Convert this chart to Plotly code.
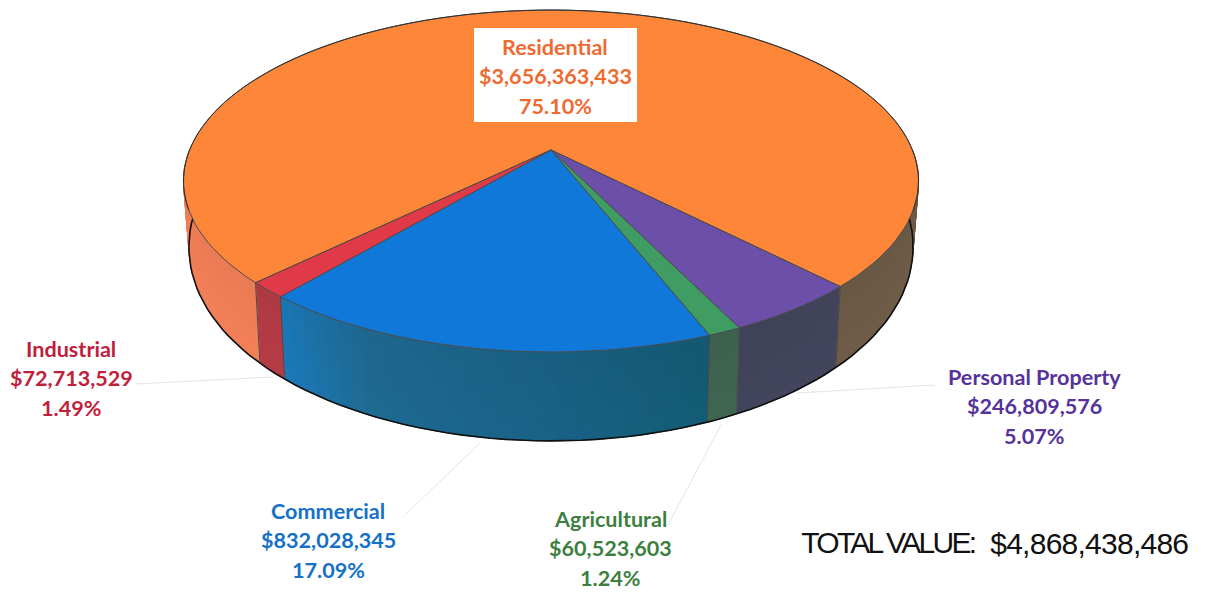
import math
import plotly.graph_objects as go

# ---- data (clockwise from the Personal/Residential edge) ----
categories = ["Personal Property", "Agricultural", "Commercial", "Industrial", "Residential"]
values = [246809576, 60523603, 832028345, 72713529, 3656363433]
value_labels = ["$246,809,576", "$60,523,603", "$832,028,345", "$72,713,529", "$3,656,363,433"]
percent_labels = ["5.07%", "1.24%", "17.09%", "1.49%", "75.10%"]
total_title = "TOTAL VALUE:"
total_label = "$4,868,438,486"

# ---- style ----
top_colors = ["#6c4fa8", "#3f9c63", "#0f78d8", "#e03a48", "#fd8638"]
text_colors = ["#55339b", "#3d7f3f", "#1570c8", "#c1203a", "#ee6a30"]
wall_stops = [
    [(0, "#42445c"), (1, "#40435a")],
    [(0, "#3f6350"), (1, "#3f6350")],
    [(0, "#125a72"), (0.35, "#186084"), (0.75, "#1e688f"), (1, "#1a78b8")],
    [(0, "#b23a44"), (1, "#b23a44")],
    None,
]
res_right = "#6c5a47"
res_left = "#ef7d56"
label_pos = {
    "Residential": (555, 47), "Industrial": (71, 349), "Personal Property": (1034, 377),
    "Commercial": (328, 511), "Agricultural": (610, 519),
}
leaders = {
    "Industrial": [(135, 384), (273, 377)], "Personal Property": [(797, 393), (935, 385)],
    "Commercial": [(405, 515), (480, 443)], "Agricultural": [(668, 525), (721, 425)],
}
LINE = 29.3
START = -45.9
CX, CY, A, B, K = 551, 150, 165.4, 361.5, 0.1813
SX, SY, DROP, SIDE = 0.985, 1.18, 52.5, 8.0


def top(t):
    X, Y = math.cos(math.radians(t)), math.sin(math.radians(t))
    w = 1 + K * Y
    return CX + B * X / w, CY - A * Y / w


def lower(t, f=1.0):
    x, y = top(t)
    c = math.cos(math.radians(t))
    xb, yb = CX + (x - CX) * SX, CY + DROP + (y - CY) * SY + SIDE * c * c
    return x + (xb - x) * f, y + (yb - y) * f


def hex2(c):
    return [int(c[i:i + 2], 16) for i in (1, 3, 5)]


def mix(a, b, f):
    ca, cb = hex2(a), hex2(b)
    return [ca[i] + (cb[i] - ca[i]) * f for i in range(3)]


def shade(rgb, m):
    return "rgb(%d,%d,%d)" % tuple(min(255, max(0, round(v * m))) for v in rgb)


def stop_color(stops, f):
    for (f0, c0), (f1, c1) in zip(stops, stops[1:]):
        if f <= f1:
            return mix(c0, c1, (f - f0) / (f1 - f0) if f1 > f0 else 0)
    return hex2(stops[-1][1])


fig = go.Figure()


def poly(xs, ys, fill, line=None, width=1):
    fig.add_trace(go.Scatter(x=xs, y=ys, mode="lines", fill="toself", fillcolor=fill,
                             line=dict(color=line or fill, width=width),
                             hoverinfo="skip", showlegend=False))


def stroke(xs, ys, color, width):
    fig.add_trace(go.Scatter(x=xs, y=ys, mode="lines", line=dict(color=color, width=width),
                             hoverinfo="skip", showlegend=False))


total = sum(values)
edges = [START]
for v in values:
    edges.append(edges[-1] - 360 * v / total)

N_BANDS = 6
STEP = 2.0

# walls: each slice split in small quads so the shading can vary
for i, v in enumerate(values):
    parts = [(edges[i], edges[i + 1])]
    if i == 4:  # only the front parts of the big slice are seen
        parts = [(edges[4], -180.0), (START, 0.0)]
    for p0, p1 in parts:
        n = max(1, int(abs(p1 - p0) / STEP))
        for s in range(n):
            t0 = p0 + (p1 - p0) * s / n
            t1 = p0 + (p1 - p0) * (s + 1) / n
            f = (s + 0.5) / n
            if i == 4:
                rgb = hex2(res_left) if p1 < -90 else hex2(res_right)
            else:
                rgb = stop_color(wall_stops[i], f)
            for b in range(N_BANDS):
                b0, b1 = b / N_BANDS, (b + 1) / N_BANDS
                m = 0.98 + 0.04 * (b + 0.5) / N_BANDS
                p = [lower(t0, b0), lower(t1, b0), lower(t1, b1), lower(t0, b1), lower(t0, b0)]
                poly([q[0] for q in p], [q[1] for q in p], shade(rgb, m))

# wall edges between slices
for e in edges[:-1]:
    a, b = top(e), lower(e)
    stroke([a[0], b[0]], [a[1], b[1]], "#4b4b4b", 1)

# lower silhouette
sil = [lower(-180 + 180 * j / 90) for j in range(91)]
stroke([q[0] for q in sil], [q[1] for q in sil], "#111111", 1.6)

# top faces
for i in [4, 0, 1, 2, 3]:
    a0, a1 = edges[i], edges[i + 1]
    n = max(2, int(abs(a1 - a0) / 2))
    pts = [(CX, CY)] + [top(a0 + (a1 - a0) * j / n) for j in range(n + 1)] + [(CX, CY)]
    poly([q[0] for q in pts], [q[1] for q in pts], top_colors[i], "#4a4a4a", 1)

# back rim darker
rim = [top(-20 + 220 * j / 110) for j in range(111)]
stroke([q[0] for q in rim], [q[1] for q in rim], "#333333", 1)

# leaders
for name, pts in leaders.items():
    stroke([pts[0][0], pts[1][0]], [pts[0][1], pts[1][1]], "#e4e4e4", 1)

# label box
fig.add_trace(go.Scatter(x=[474, 637, 637, 474, 474], y=[28, 28, 122, 122, 28], mode="lines",
                         fill="toself", fillcolor="#ffffff", line=dict(color="#ffffff", width=0),
                         hoverinfo="skip", showlegend=False))

annotations = []
for i, name in enumerate(categories):
    x, y = label_pos[name]
    for j, txt in enumerate([name, value_labels[i], percent_labels[i]]):
        annotations.append(dict(x=x, y=y + j * LINE, text=txt, xref="x", yref="y", showarrow=False,
                                xanchor="center", yanchor="middle",
                                font=dict(family="Lato", size=21.6, color=text_colors[i], weight="bold")))
annotations.append(dict(x=888, y=542, text=total_title, xref="x", yref="y", showarrow=False,
                        xanchor="center", yanchor="middle",
                        font=dict(family="Liberation Sans", size=30, color="#111111")))
annotations.append(dict(x=1089, y=543, text=total_label, xref="x", yref="y", showarrow=False,
                        xanchor="center", yanchor="middle",
                        font=dict(family="Liberation Sans", size=30, color="#111111")))

fig.update_layout(
    width=1206, height=594, margin=dict(l=0, r=0, t=0, b=0),
    paper_bgcolor="#ffffff", plot_bgcolor="#ffffff", showlegend=False,
    xaxis=dict(range=[0, 1206], visible=False, fixedrange=True),
    yaxis=dict(range=[594, 0], visible=False, fixedrange=True),
    annotations=annotations,
)
tracking = """
document.body.style.margin='0';
document.querySelectorAll('.annotation-text').forEach(function(t){
  if(t.textContent==='TOTAL VALUE:'){t.style.letterSpacing='-2.7px';}
  if(t.textContent.indexOf('$4,868')===0){t.style.letterSpacing='-0.75px';}
});
"""
fig.write_html("out.html", post_script=tracking, config=dict(displayModeBar=False))
